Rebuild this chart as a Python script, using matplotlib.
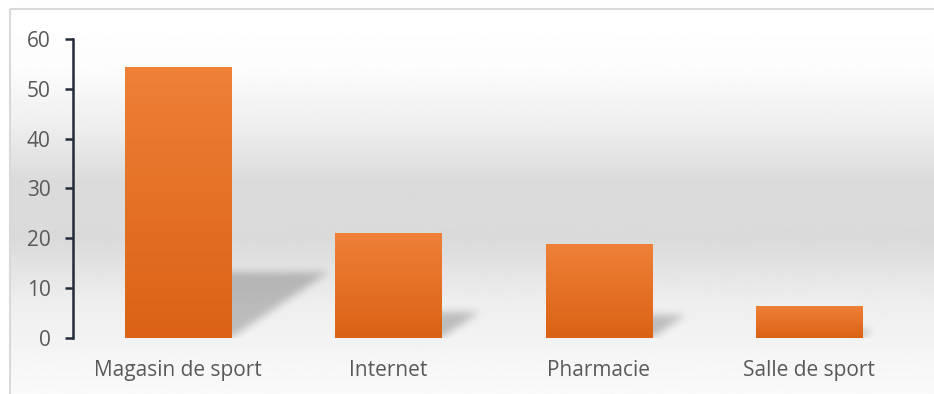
import numpy as np
import matplotlib
matplotlib.use("Agg")
import matplotlib.pyplot as plt
from matplotlib.patches import Rectangle

categories = ["Magasin de sport", "Internet", "Pharmacie", "Salle de sport"]
values = [54.4, 21.0, 18.8, 6.4]
y_ticks = [0, 10, 20, 30, 40, 50, 60]

BAR_TOP = np.array([238, 128, 55]) / 255
BAR_BOTTOM = np.array([219, 98, 20]) / 255
TEXT = "#595959"
AXIS = "#222b38"

plt.rcParams["font.family"] = ["Open Sans", "DejaVu Sans"]

W, H, DPI = 934, 394, 100
fig = plt.figure(figsize=(W / DPI, H / DPI), dpi=DPI)

# background panel: soft vertical grey gradient inside a thin frame
bg = fig.add_axes([0, 0, 1, 1], zorder=-5)
bg.set_xlim(0, W)
bg.set_ylim(H, 0)
bg.axis("off")
rows = np.arange(H)
stops_y = [9, 60, 120, 175, 235, 300, 394]
stops_v = [255, 252, 238, 219, 218, 238, 250]
shade = np.interp(rows, stops_y, stops_v) / 255
grad = np.repeat(shade[:, None], 2, axis=1)
bg.imshow(grad, cmap="gray", vmin=0, vmax=1, aspect="auto",
          extent=(10, W, H, 9), interpolation="bilinear")
bg.add_patch(Rectangle((10, 9), W + 20, H + 20, fill=False,
                       edgecolor="#d9d9d9", lw=1.5))

ax = fig.add_axes([73 / W, (H - 337.7) / H, (914.5 - 73) / W, 298.7 / H])
ax.set_facecolor("none")

x = np.arange(len(categories))
bar_w = 0.505

# skewed drop shadows behind the bars, rasterised and blurred
gw, gh = 842, 300
gx = np.linspace(-0.5, len(categories) - 0.5, gw)
gy = np.linspace(0, 60, gh)
GX, GY = np.meshgrid(gx, gy)
mask = np.zeros_like(GX)
k, s = 0.24, 0.0084
for xi, v in zip(x, values):
    shift = GY * (s / k)
    inside = (GY <= k * v) & (GX >= xi - bar_w / 2 + shift) & (GX <= xi + bar_w / 2 + shift)
    mask[inside] = 1.0


def blur(a, r):
    ker = np.exp(-0.5 * (np.arange(-3 * r, 3 * r + 1) / r) ** 2)
    ker /= ker.sum()
    a = np.apply_along_axis(lambda m: np.convolve(m, ker, mode="same"), 0, a)
    a = np.apply_along_axis(lambda m: np.convolve(m, ker, mode="same"), 1, a)
    return a


mask = blur(mask, 4)
shadow = np.zeros((gh, gw, 4))
shadow[..., 3] = mask * 0.22
ax.imshow(shadow, origin="lower", aspect="auto",
          extent=(-0.5, len(categories) - 0.5, 0, 60), zorder=1)

# bars with a top-to-bottom orange gradient
for xi, v in zip(x, values):
    t = np.linspace(0, 1, 64)[:, None]
    col = BAR_BOTTOM * (1 - t) + BAR_TOP * t
    img = np.repeat(col[:, None, :], 2, axis=1)
    ax.imshow(img, origin="lower", aspect="auto", interpolation="bilinear",
              extent=(xi - bar_w / 2, xi + bar_w / 2, 0, v), zorder=2)
ax.set_xlim(-0.5, len(categories) - 0.5)
ax.set_ylim(0, 60)

ax.set_xticks(x)
ax.set_xticklabels(categories)
ax.set_yticks(y_ticks)
ax.tick_params(axis="x", length=0, pad=16, labelsize=15, labelcolor=TEXT)
ax.tick_params(axis="y", length=6, width=1.8, color=AXIS, pad=10,
               labelsize=15, labelcolor=TEXT)
for side in ["top", "right", "bottom"]:
    ax.spines[side].set_visible(False)
ax.spines["left"].set_color(AXIS)
ax.spines["left"].set_linewidth(1.8)

fig.savefig("out.png", dpi=DPI)
